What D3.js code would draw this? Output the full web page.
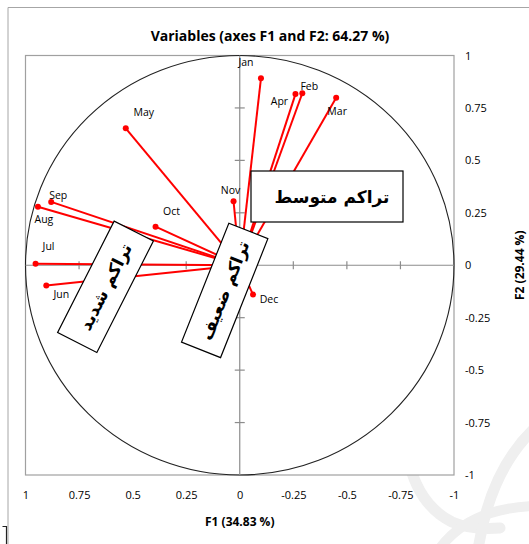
<!DOCTYPE html>
<html>
<head>
<meta charset="utf-8">
<script src="https://cdn.jsdelivr.net/npm/d3@7"></script>
<style>
  html, body { margin: 0; padding: 0; background: #fff; }
  #chart { width: 529px; height: 544px; }
  text { font-family: "Open Sans", "Liberation Sans", sans-serif; fill: #000; }
  .ar { font-family: "DejaVu Sans", sans-serif; font-weight: bold; }
</style>
</head>
<body>
<div id="chart"></div>
<script>
// Correlation circle: months on F1 / F2
const months = ["Jan", "Feb", "Mar", "Apr", "May", "Jun", "Jul", "Aug", "Sep", "Oct", "Nov", "Dec"];
const f1 = [-0.099, -0.292, -0.450, -0.260, 0.532, 0.903, 0.953, 0.942, 0.880, 0.393, 0.029, -0.062];
const f2 = [0.891, 0.820, 0.799, 0.816, 0.653, -0.096, 0.007, 0.279, 0.302, 0.184, 0.305, -0.140];
const tickValues = [1, 0.75, 0.5, 0.25, 0, -0.25, -0.5, -0.75, -1];
const boxTexts = ["تراكم متوسط", "تراكم شديد", "تراكم ضعيف"];

// label placement relative to each point (px)
const labelOffset = {
    Jan: [-15, -16], Feb: [7, -7], Mar: [1, 13], Apr: [-16, 7], May: [18, -16],
    Jun: [15, 9], Jul: [13, -18], Aug: [6, 12], Sep: [7, -7], Oct: [16, -16],
    Nov: [-3, -11], Dec: [16, 4]
};

(() => {
    const W = 529, H = 544;
    const svg = d3.select("#chart").append("svg").attr("width", W).attr("height", H);

    // plot frame in pixels
    const p = { left: 25.5, right: 454, top: 55.5, bottom: 475 };
    const x = d3.scaleLinear().domain([1, -1]).range([p.left, p.right]);
    const y = d3.scaleLinear().domain([1, -1]).range([p.top, p.bottom]);

    // outer chart border (only top/left visible)
    svg.append("path").attr("d", `M8,${H} V7.5 H${W}`)
        .attr("fill", "none").attr("stroke", "#a6a6a6").attr("stroke-width", 1);
    svg.append("path").attr("d", "M2.5,526.5 H6.5 V544")
        .attr("fill", "none").attr("stroke", "#222").attr("stroke-width", 1.2);

    // watermark
    const wm = svg.append("g").attr("fill", "none").attr("stroke", "#efefef").attr("stroke-linecap", "round");
    wm.append("path").attr("d", "M408,458 Q418,505 452,522 Q470,530 500,528").attr("stroke-width", 11);
    wm.append("path").attr("d", "M535,428 Q490,470 478,550").attr("stroke-width", 11);
    wm.append("path").attr("d", "M440,548 Q470,508 535,506").attr("stroke-width", 10);

    // title
    svg.append("text").attr("x", 270).attr("y", 35.5)
        .attr("text-anchor", "middle").attr("dominant-baseline", "central")
        .attr("font-size", 14).attr("font-weight", "bold")
        .text("Variables (axes F1 and F2: 64.27 %)");

    // frame
    svg.append("rect").attr("x", p.left).attr("y", p.top)
        .attr("width", p.right - p.left).attr("height", p.bottom - p.top)
        .attr("fill", "#fff").attr("stroke", "#a0a0a0").attr("stroke-width", 1.2);

    // unit circle
    svg.append("ellipse")
        .attr("cx", x(0)).attr("cy", y(0))
        .attr("rx", Math.abs(x(1) - x(0))).attr("ry", Math.abs(y(1) - y(0)))
        .attr("fill", "none").attr("stroke", "#222").attr("stroke-width", 1.1);

    // cross axes with ticks
    const inner = tickValues.filter(v => Math.abs(v) < 1 && v !== 0);
    const ax = svg.append("g").attr("stroke", "#8c8c8c").attr("stroke-width", 1.2);
    ax.append("line").attr("x1", x(1)).attr("x2", x(-1)).attr("y1", y(0)).attr("y2", y(0));
    ax.append("line").attr("x1", x(0)).attr("x2", x(0)).attr("y1", y(1)).attr("y2", y(-1));
    ax.selectAll(".tx").data(inner).join("line").attr("class", "tx")
        .attr("x1", d => x(d)).attr("x2", d => x(d))
        .attr("y1", y(0) - 4).attr("y2", y(0) + 4);
    ax.selectAll(".ty").data(inner).join("line").attr("class", "ty")
        .attr("x1", x(0) - 5).attr("x2", x(0) + 5)
        .attr("y1", d => y(d)).attr("y2", d => y(d));

    const fmt = d => String(d);

    // x tick labels
    const gx = svg.append("g").attr("transform", `translate(0,${p.bottom + 13})`)
        .call(d3.axisBottom(x).tickValues(tickValues).tickFormat(fmt).tickSize(0));
    gx.select(".domain").remove();
    gx.selectAll("text").attr("font-size", 11).attr("fill", "#000")
        .attr("font-family", "Open Sans, sans-serif");

    // y tick labels
    const gy = svg.append("g").attr("transform", `translate(${p.right + 8},0)`)
        .call(d3.axisRight(y).tickValues(tickValues).tickFormat(fmt).tickSize(0));
    gy.select(".domain").remove();
    gy.selectAll("text").attr("font-size", 11).attr("fill", "#000")
        .attr("font-family", "Open Sans, sans-serif");

    // axis titles
    svg.append("text").attr("x", x(0)).attr("y", 521.5)
        .attr("text-anchor", "middle").attr("dominant-baseline", "central")
        .attr("font-size", 12).attr("font-weight", "bold").text("F1 (34.83 %)");
    svg.append("text")
        .attr("transform", `translate(519,${y(0)}) rotate(-90)`)
        .attr("text-anchor", "middle").attr("dominant-baseline", "central")
        .attr("font-size", 12).attr("font-weight", "bold").text("F2 (29.44 %)");

    const data = months.map((m, i) => ({ m, a: f1[i], b: f2[i] }));

    // vectors
    svg.append("g").selectAll("line").data(data).join("line")
        .attr("x1", x(0)).attr("y1", y(0))
        .attr("x2", d => x(d.a)).attr("y2", d => y(d.b))
        .attr("stroke", "#ff0000").attr("stroke-width", 2);
    svg.append("g").selectAll("circle").data(data).join("circle")
        .attr("cx", d => x(d.a)).attr("cy", d => y(d.b)).attr("r", 3)
        .attr("fill", "#ff0000");
    svg.append("g").selectAll("text").data(data).join("text")
        .attr("x", d => x(d.a) + labelOffset[d.m][0])
        .attr("y", d => y(d.b) + labelOffset[d.m][1])
        .attr("text-anchor", "middle").attr("dominant-baseline", "central")
        .attr("font-size", 10.5).text(d => d.m);

    // annotation boxes
    const boxes = [
        { t: boxTexts[0], cx: 327, cy: 196.5, w: 152, h: 51, rot: 0, tx: 5 },
        { t: boxTexts[1], cx: 105.5, cy: 286.8, w: 125, h: 44, rot: -63.1, tx: 0 },
        { t: boxTexts[2], cx: 224.7, cy: 290.4, w: 128, h: 42, rot: -68.3, tx: 0 }
    ];
    const bg = svg.append("g").selectAll("g").data(boxes).join("g")
        .attr("transform", d => `translate(${d.cx},${d.cy}) rotate(${d.rot})`);
    bg.append("rect")
        .attr("x", d => -d.w / 2).attr("y", d => -d.h / 2)
        .attr("width", d => d.w).attr("height", d => d.h)
        .attr("fill", "#fff").attr("stroke", "#000").attr("stroke-width", 1.2);
    bg.append("text").attr("class", "ar")
        .attr("x", d => d.tx).attr("y", 0)
        .attr("text-anchor", "middle").attr("dominant-baseline", "central")
        .attr("direction", "rtl")
        .attr("font-size", 17).text(d => d.t);
})();
</script>
</body>
</html>
